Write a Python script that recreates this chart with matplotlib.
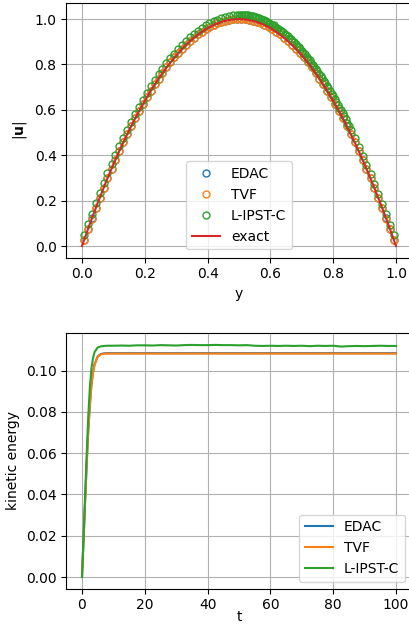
import matplotlib
matplotlib.use('Agg')
import matplotlib.pyplot as plt

# velocity profile across the channel
y_pts = [0.006, 0.019, 0.031, 0.044, 0.056, 0.069, 0.081, 0.094, 0.106, 0.119,
         0.131, 0.144, 0.156, 0.169, 0.181, 0.194, 0.206, 0.219, 0.231, 0.244,
         0.256, 0.269, 0.281, 0.294, 0.306, 0.319, 0.331, 0.344, 0.356, 0.369,
         0.381, 0.394, 0.406, 0.419, 0.431, 0.444, 0.456, 0.469, 0.481, 0.494,
         0.506, 0.519, 0.531, 0.544, 0.556, 0.569, 0.581, 0.594, 0.606, 0.619,
         0.631, 0.644, 0.656, 0.669, 0.681, 0.694, 0.706, 0.719, 0.731, 0.744,
         0.756, 0.769, 0.781, 0.794, 0.806, 0.819, 0.831, 0.844, 0.856, 0.869,
         0.881, 0.894, 0.906, 0.919, 0.931, 0.944, 0.956, 0.969, 0.981, 0.994]

u_edac = [0.026, 0.075, 0.122, 0.168, 0.213, 0.257, 0.300, 0.341, 0.381, 0.420,
          0.457, 0.493, 0.528, 0.562, 0.595, 0.626, 0.656, 0.685, 0.712, 0.738,
          0.763, 0.787, 0.810, 0.831, 0.851, 0.870, 0.887, 0.903, 0.918, 0.932,
          0.945, 0.956, 0.966, 0.975, 0.982, 0.988, 0.993, 0.997, 1.000, 1.001,
          1.001, 1.000, 0.997, 0.993, 0.988, 0.982, 0.975, 0.966, 0.956, 0.945,
          0.932, 0.918, 0.903, 0.887, 0.870, 0.851, 0.831, 0.810, 0.787, 0.763,
          0.738, 0.712, 0.685, 0.656, 0.626, 0.595, 0.562, 0.528, 0.493, 0.457,
          0.420, 0.381, 0.341, 0.300, 0.257, 0.213, 0.168, 0.122, 0.075, 0.026]

u_tvf = [0.025, 0.074, 0.121, 0.168, 0.213, 0.257, 0.300, 0.341, 0.381, 0.420,
         0.457, 0.493, 0.528, 0.562, 0.595, 0.626, 0.656, 0.685, 0.712, 0.738,
         0.763, 0.787, 0.810, 0.831, 0.851, 0.870, 0.887, 0.903, 0.918, 0.932,
         0.945, 0.956, 0.966, 0.975, 0.982, 0.988, 0.993, 0.997, 1.000, 1.001,
         1.001, 1.000, 0.997, 0.993, 0.988, 0.982, 0.975, 0.966, 0.956, 0.945,
         0.932, 0.918, 0.903, 0.887, 0.870, 0.851, 0.831, 0.810, 0.787, 0.763,
         0.738, 0.712, 0.685, 0.656, 0.626, 0.595, 0.562, 0.528, 0.493, 0.457,
         0.420, 0.381, 0.341, 0.300, 0.257, 0.213, 0.168, 0.121, 0.074, 0.025]

# L-IPST-C has many more particles on the right half of the channel
y_lipst = [0.006, 0.019, 0.031, 0.044, 0.056, 0.069, 0.081, 0.094, 0.106, 0.119,
           0.131, 0.144, 0.156, 0.169, 0.181, 0.194, 0.206, 0.219, 0.231, 0.244,
           0.256, 0.269, 0.281, 0.294, 0.306, 0.319, 0.331, 0.344, 0.356, 0.369,
           0.381, 0.394, 0.406, 0.419, 0.431, 0.444, 0.456, 0.469, 0.481, 0.494,
           0.500, 0.505, 0.510, 0.515, 0.520, 0.525, 0.530, 0.535, 0.540, 0.545,
           0.550, 0.555, 0.560, 0.565, 0.570, 0.575, 0.580, 0.585, 0.590, 0.595,
           0.600, 0.605, 0.610, 0.615, 0.620, 0.625, 0.630, 0.635, 0.640, 0.645,
           0.650, 0.655, 0.660, 0.665, 0.670, 0.675, 0.680, 0.685, 0.690, 0.695,
           0.700, 0.705, 0.710, 0.715, 0.720, 0.725, 0.730, 0.735, 0.740, 0.745,
           0.750, 0.755, 0.760, 0.765, 0.770, 0.775, 0.780, 0.785, 0.790, 0.795,
           0.800, 0.805, 0.810, 0.815, 0.820, 0.825, 0.830, 0.835, 0.840, 0.845,
           0.850,
           0.856, 0.869, 0.881, 0.894, 0.906, 0.919, 0.931, 0.944, 0.956, 0.969,
           0.981, 0.994]

u_lipst = [0.050, 0.097, 0.143, 0.190, 0.234, 0.278, 0.320, 0.362, 0.402, 0.440,
           0.477, 0.513, 0.548, 0.581, 0.613, 0.644, 0.674, 0.703, 0.730, 0.756,
           0.781, 0.805, 0.827, 0.848, 0.868, 0.887, 0.904, 0.920, 0.935, 0.949,
           0.961, 0.972, 0.982, 0.991, 0.998, 1.004, 1.009, 1.013, 1.016, 1.018,
           1.020, 1.020, 1.020, 1.019, 1.018, 1.018, 1.017, 1.015, 1.014, 1.012,
           1.010, 1.008, 1.006, 1.003, 1.000, 0.998, 0.994, 0.991, 0.988, 0.984,
           0.980, 0.976, 0.972, 0.967, 0.962, 0.958, 0.952, 0.947, 0.942, 0.936,
           0.930, 0.924, 0.918, 0.911, 0.904, 0.898, 0.890, 0.883, 0.876, 0.868,
           0.860, 0.852, 0.844, 0.835, 0.826, 0.818, 0.808, 0.799, 0.790, 0.780,
           0.770, 0.760, 0.750, 0.739, 0.728, 0.718, 0.706, 0.695, 0.684, 0.672,
           0.660, 0.648, 0.636, 0.623, 0.610, 0.598, 0.584, 0.571, 0.558, 0.544,
           0.530,
           0.510, 0.474, 0.437, 0.398, 0.358, 0.317, 0.274, 0.231, 0.187, 0.141,
           0.094, 0.048]

y_exact = [0.0, 0.025, 0.05, 0.075, 0.1, 0.125, 0.15, 0.175, 0.2, 0.225,
           0.25, 0.275, 0.3, 0.325, 0.35, 0.375, 0.4, 0.425, 0.45, 0.475,
           0.5, 0.525, 0.55, 0.575, 0.6, 0.625, 0.65, 0.675, 0.7, 0.725,
           0.75, 0.775, 0.8, 0.825, 0.85, 0.875, 0.9, 0.925, 0.95, 0.975, 1.0]
u_exact = [0.0, 0.0975, 0.19, 0.2775, 0.36, 0.4375, 0.51, 0.5775, 0.64, 0.6975,
           0.75, 0.7975, 0.84, 0.8775, 0.91, 0.9375, 0.96, 0.9775, 0.99, 0.9975,
           1.0, 0.9975, 0.99, 0.9775, 0.96, 0.9375, 0.91, 0.8775, 0.84, 0.7975,
           0.75, 0.6975, 0.64, 0.5775, 0.51, 0.4375, 0.36, 0.2775, 0.19, 0.0975, 0.0]

# kinetic energy history
t = [0, 0.5, 1, 1.5, 2, 2.5, 3, 3.5, 4, 5, 6, 7, 8,
     10, 12.5, 15, 17.5, 20, 22.5, 25, 27.5, 30, 32.5, 35, 37.5, 40, 42.5, 45,
     47.5, 50, 52.5, 55, 57.5, 60, 62.5, 65, 67.5, 70, 72.5, 75, 77.5, 80, 82.5,
     85, 87.5, 90, 92.5, 95, 97.5, 100]

ke_edac = [0, 0.018, 0.037, 0.055, 0.071, 0.083, 0.093, 0.099, 0.103, 0.1070, 0.1081, 0.1084, 0.1085,
           0.1085, 0.1085, 0.1085, 0.1085, 0.1085, 0.1085, 0.1085, 0.1085, 0.1085, 0.1085,
           0.1085, 0.1085, 0.1085, 0.1085, 0.1085, 0.1085, 0.1085, 0.1085, 0.1085, 0.1085,
           0.1085, 0.1085, 0.1085, 0.1085, 0.1085, 0.1085, 0.1085, 0.1085, 0.1085, 0.1085,
           0.1085, 0.1085, 0.1085, 0.1085, 0.1085, 0.1085, 0.1085]

ke_tvf = [0, 0.018, 0.037, 0.055, 0.071, 0.083, 0.093, 0.099, 0.103, 0.1068, 0.1079, 0.1082, 0.1083,
          0.1083, 0.1083, 0.1083, 0.1083, 0.1083, 0.1083, 0.1083, 0.1083, 0.1083, 0.1083,
          0.1083, 0.1083, 0.1083, 0.1083, 0.1083, 0.1083, 0.1083, 0.1083, 0.1083, 0.1083,
          0.1083, 0.1083, 0.1083, 0.1083, 0.1083, 0.1083, 0.1083, 0.1083, 0.1083, 0.1083,
          0.1083, 0.1083, 0.1083, 0.1083, 0.1083, 0.1083, 0.1083]

ke_lipst = [0, 0.020, 0.040, 0.060, 0.078, 0.092, 0.101, 0.106, 0.109, 0.1113, 0.1118, 0.1120, 0.1121,
            0.1121, 0.1122, 0.1121, 0.1123, 0.1123, 0.1122, 0.1124, 0.1123, 0.1122, 0.1124,
            0.1125, 0.1124, 0.1124, 0.1125, 0.1124, 0.1124, 0.1123, 0.1124, 0.1121, 0.1120,
            0.1121, 0.1120, 0.1121, 0.1120, 0.1121, 0.1119, 0.1121, 0.1120, 0.1121, 0.1117,
            0.1119, 0.1120, 0.1119, 0.1120, 0.1121, 0.1120, 0.1120]

fig = plt.figure(figsize=(4.09, 6.25), dpi=100)

ax1 = fig.add_axes([0.1621, 0.5878, 0.8445, 0.4075])
ax1.plot(y_pts, u_edac, 'o', mfc='none', ms=5, label='EDAC')
ax1.plot(y_pts, u_tvf, 'o', mfc='none', ms=5, label='TVF')
ax1.plot(y_lipst, u_lipst, 'o', mfc='none', ms=5, label='L-IPST-C')
ax1.plot(y_exact, u_exact, color='tab:red', label='exact')
ax1.set_xlabel('y')
ax1.set_ylabel(r'$|\mathbf{u}|$')
ax1.grid(True)
ax1.legend(loc='lower center', borderaxespad=0.6)

ax2 = fig.add_axes([0.1621, 0.0582, 0.8445, 0.4085])
ax2.plot(t, ke_edac, label='EDAC')
ax2.plot(t, ke_tvf, label='TVF')
ax2.plot(t, ke_lipst, label='L-IPST-C')
ax2.set_xlabel('t', labelpad=-2)
ax2.set_ylabel('kinetic energy')
ax2.grid(True)
ax2.legend(loc='lower right')

fig.savefig('out.png', dpi=100)
